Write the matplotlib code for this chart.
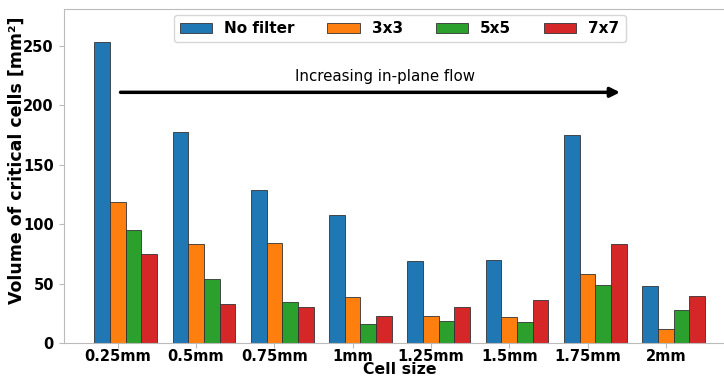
import matplotlib
matplotlib.use("Agg")
import matplotlib.pyplot as plt
import numpy as np

categories = ["0.25mm", "0.5mm", "0.75mm", "1mm", "1.25mm", "1.5mm", "1.75mm", "2mm"]
no_filter = [253, 178, 129, 108, 69, 70, 175, 48]
f3x3 = [119, 83, 84, 39, 23, 22, 58, 12]
f5x5 = [95, 54, 35, 16, 19, 18, 49, 28]
f7x7 = [75, 33, 30, 23, 30, 36, 83, 40]
series_labels = ["No filter", "3x3", "5x5", "7x7"]
colors = ["#1f77b4", "#ff7f0e", "#2ca02c", "#d62728"]

fig = plt.figure(figsize=(7.24, 3.8), dpi=100)
ax = fig.add_axes([0.088, 0.097, 0.928, 0.879])

x = np.arange(len(categories))
w = 0.2
for k, (vals, lab, c) in enumerate(zip([no_filter, f3x3, f5x5, f7x7], series_labels, colors)):
    ax.bar(x + (k - 1) * w, vals, w, label=lab, color=c, edgecolor="#333333", linewidth=0.6)

ax.set_xticks(x)
ax.set_xticklabels(categories, fontsize=10.5, fontweight="bold")
ax.set_xlim(-0.69, 7.89)
ax.set_ylim(0, 281)
ax.set_yticks([0, 50, 100, 150, 200, 250])
for t in ax.get_yticklabels():
    t.set_fontsize(10.5)
    t.set_fontweight("bold")
ax.set_ylabel("Volume of critical cells [mm²]", fontsize=12.5, fontweight="bold")
ax.yaxis.set_label_coords(-0.056, 0.548)
ax.set_xlabel("Cell size", fontsize=11.3, fontweight="bold", labelpad=-1.5)
for s in ax.spines.values():
    s.set_color("#bbbbbb")
ax.tick_params(colors="#bbbbbb", labelcolor="black")
ax.tick_params(axis="x", pad=1)

ax.annotate("", xy=(6.45, 211), xytext=(0.0, 211),
            arrowprops=dict(arrowstyle="-|>", color="black", lw=2.5, mutation_scale=14))
ax.text(3.41, 224, "Increasing in-plane flow", ha="center", va="center", fontsize=10.8)

leg = ax.legend(loc="upper center", ncol=4, bbox_to_anchor=(0.5, 1.005),
                prop={"weight": "bold", "size": 11}, handlelength=2.1,
                columnspacing=2.15, handletextpad=0.8, frameon=True)

fig.savefig("out.png", dpi=100)
